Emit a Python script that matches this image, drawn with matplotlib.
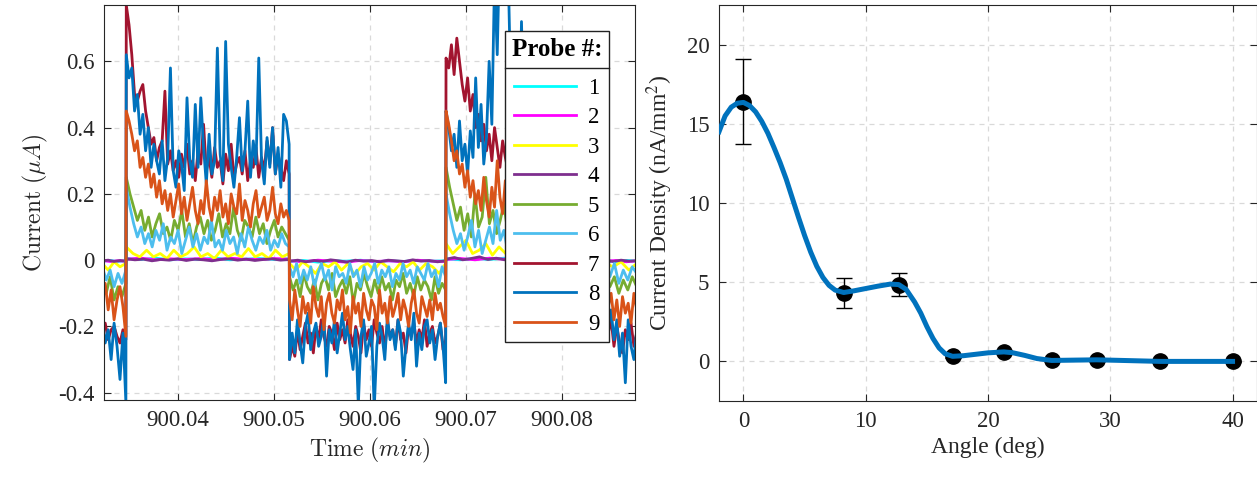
import numpy as np
import matplotlib.pyplot as plt
from matplotlib.lines import Line2D

plt.rcParams['font.family'] = 'Liberation Serif'
plt.rcParams['mathtext.fontset'] = 'stix'
plt.rcParams['axes.unicode_minus'] = False

# -----------------------------------------------------------------
# Left: probe currents, square wave segments (low, high, low, high, low)
# -----------------------------------------------------------------
edges = [900.0321, 900.0346, 900.0516, 900.0679, 900.0845, 900.0878]

probe1 = [
    [-0.003, -0.001, -0.004, -0.002],
    [0.005, 0.002, 0.006, 0.001, 0.004, 0.002, 0.007, 0.001, 0.003, 0.005, 0.002, 0.004],
    [-0.004, -0.001, -0.006, -0.002, -0.003, 0.0, -0.005, -0.002, -0.004, -0.001, -0.003, -0.002],
    [0.004, 0.001, 0.005, 0.002, 0.006, 0.001, 0.003, 0.005, 0.002, 0.004, 0.001, 0.003],
    [-0.002, -0.004, -0.001, -0.003],
]
probe2 = [
    [-0.001, -0.004, -0.002, -0.003],
    [0.003, 0.006, 0.001, 0.004, 0.002, 0.005, 0.001, 0.006, 0.003, 0.002, 0.005, 0.003],
    [-0.002, -0.005, 0.0, -0.003, -0.006, -0.001, -0.004, -0.002, -0.005, 0.0, -0.003, -0.004],
    [0.002, 0.005, 0.001, 0.006, 0.003, 0.004, 0.001, 0.005, 0.002, 0.006, 0.003, 0.002],
    [-0.003, -0.001, -0.005, -0.002],
]
probe3 = [
    [-0.01, -0.03, -0.005, -0.02, -0.01],
    [0.04, 0.02, 0.01, 0.03, 0.01, 0.02, 0.005, 0.03, 0.01, 0.02, 0.04, 0.01, 0.02,
     0.005, 0.03, 0.01, 0.02, 0.01, 0.035, 0.01, 0.02, 0.005, 0.03, 0.01, 0.02],
    [-0.01, -0.03, -0.005, -0.02, -0.04, -0.01, -0.02, -0.005, -0.03, -0.01, -0.045, -0.02, -0.01,
     -0.03, -0.005, -0.02, -0.035, -0.01, -0.02, -0.005, -0.03, -0.01, -0.02, -0.04, -0.01],
    [0.05, 0.02, 0.04, 0.06, 0.02, 0.03, 0.05, 0.015, 0.04, 0.02, 0.06, 0.03, 0.02,
     0.05, 0.03, 0.02, 0.04, 0.015, 0.03, 0.05, 0.02, 0.03, 0.04, 0.02, 0.03],
    [-0.01, -0.02, -0.005, -0.03, -0.01],
]
probe4 = [
    [-0.002, 0.0, -0.004, -0.001, -0.003],
    [0.004, 0.001, 0.003, -0.002, 0.002, 0.0, 0.004, -0.001, 0.003, 0.001,
     -0.002, 0.002, 0.004, 0.0, 0.003, -0.001, 0.002, 0.004, 0.0, 0.002],
    [-0.003, 0.0, -0.005, -0.001, -0.004, 0.001, -0.002, -0.006, 0.0, -0.003,
     -0.001, -0.005, 0.0, -0.002, -0.004, 0.001, -0.003, -0.001, -0.005, -0.002],
    [0.003, 0.008, 0.001, 0.005, 0.010, 0.002, 0.006, 0.001, 0.009, 0.003,
     0.005, 0.0, 0.007, 0.002, 0.004, 0.008, 0.001, 0.005, 0.003, 0.006],
    [-0.001, -0.004, 0.0, -0.003, -0.002],
]
probe5 = [
    [-0.06, -0.10, -0.05, -0.12, -0.08, -0.11, -0.07],
    [0.25, 0.20, 0.16, 0.12, 0.15, 0.09, 0.13, 0.07, 0.11, 0.14, 0.08, 0.10, 0.06, 0.12, 0.09,
     0.15, 0.07, 0.11, 0.05, 0.10, 0.13, 0.08, 0.12, 0.06, 0.09, 0.14, 0.07, 0.11, 0.08, 0.16,
     0.09, 0.06, 0.12, 0.10, 0.07, 0.13, 0.08, 0.11, 0.05, 0.09, 0.12, 0.07, 0.10, 0.08, 0.06],
    [-0.05, -0.09, -0.06, -0.11, -0.04, -0.08, -0.10, -0.06, -0.12, -0.07, -0.05, -0.09, -0.04, -0.11, -0.08,
     -0.06, -0.10, -0.05, -0.13, -0.07, -0.09, -0.04, -0.08, -0.11, -0.06, -0.10, -0.05, -0.09, -0.07, -0.12,
     -0.06, -0.08, -0.04, -0.10, -0.07, -0.11, -0.05, -0.09, -0.06, -0.08, -0.12, -0.05, -0.10, -0.07, -0.09],
    [0.28, 0.22, 0.17, 0.12, 0.16, 0.09, 0.14, 0.07, 0.20, 0.10, 0.13, 0.25, 0.11, 0.15, 0.08,
     0.12, 0.17, 0.09, 0.14, 0.06, 0.11, 0.16, 0.08, 0.13, 0.10, 0.07, 0.12, 0.15, 0.09, 0.11,
     0.06, 0.13, 0.10, 0.08, 0.14, 0.07, 0.11, 0.09, 0.12, 0.06, 0.10, 0.13, 0.08, 0.11, 0.09],
    [-0.04, -0.08, -0.05, -0.10, -0.06, -0.09, -0.05, -0.08],
]
probe6 = [
    [-0.02, -0.06, -0.03, -0.08, -0.04, -0.07, -0.03],
    [0.22, 0.16, 0.11, 0.07, 0.10, 0.05, 0.08, 0.04, 0.09, 0.06, 0.11, 0.03, 0.07, 0.05, 0.09,
     0.02, 0.06, 0.10, 0.04, 0.08, 0.03, 0.07, 0.05, 0.12, 0.04, 0.06, 0.03, 0.09, 0.05, 0.07,
     0.02, 0.08, 0.04, 0.10, 0.06, 0.03, 0.07, 0.05, 0.09, 0.03, 0.06, 0.04, 0.08, 0.05, 0.04],
    [-0.02, -0.05, -0.01, -0.07, -0.03, -0.06, -0.02, -0.08, -0.04, -0.01, -0.06, -0.03, -0.09, -0.02, -0.05,
     -0.04, -0.07, -0.01, -0.05, -0.03, -0.08, -0.02, -0.06, -0.04, -0.01, -0.07, -0.03, -0.05, -0.02, -0.08,
     -0.04, -0.06, -0.01, -0.05, -0.03, -0.07, -0.02, -0.04, -0.06, -0.01, -0.05, -0.03, -0.08, -0.02, -0.05],
    [0.20, 0.14, 0.09, 0.05, 0.08, 0.03, 0.07, 0.12, 0.04, 0.09, 0.02, 0.06, 0.10, 0.05, 0.15,
     0.06, 0.09, 0.03, 0.07, 0.05, 0.11, 0.04, 0.08, 0.03, 0.06, 0.09, 0.04, 0.10, 0.05, 0.07,
     0.03, 0.08, 0.06, 0.04, 0.09, 0.03, 0.07, 0.05, 0.10, 0.04, 0.06, 0.08, 0.03, 0.07, 0.05],
    [-0.02, -0.05, -0.01, -0.07, -0.03, -0.06, -0.02, -0.04],
]
probe7 = [
    [-0.22, -0.19, -0.24, -0.21, -0.20, -0.23, -0.25, -0.21, -0.24],
    [0.77, 0.71, 0.62, 0.50, 0.48, 0.51, 0.53, 0.45, 0.40, 0.35, 0.37, 0.30, 0.34, 0.36, 0.51,
     0.29, 0.33, 0.27, 0.30, 0.25, 0.32, 0.28, 0.35, 0.26, 0.30, 0.24, 0.33, 0.29, 0.41, 0.27,
     0.31, 0.25, 0.34, 0.28, 0.30, 0.23, 0.32, 0.27, 0.35, 0.25, 0.29, 0.31, 0.26, 0.33, 0.24,
     0.30, 0.28, 0.34, 0.25, 0.31, 0.27, 0.36, 0.29, 0.40, 0.26, 0.32, 0.28, 0.24, 0.30, 0.26],
    [-0.30, -0.26, -0.29, -0.21, -0.27, -0.23, -0.19, -0.25, -0.22, -0.28, -0.20, -0.24, -0.18, -0.23, -0.26,
     -0.20, -0.22, -0.27, -0.19, -0.24, -0.21, -0.25, -0.18, -0.22, -0.26, -0.20, -0.23, -0.28, -0.19, -0.24,
     -0.21, -0.26, -0.18, -0.22, -0.25, -0.20, -0.27, -0.19, -0.23, -0.21, -0.26, -0.18, -0.24, -0.22, -0.28,
     -0.20, -0.23, -0.19, -0.25, -0.21, -0.24, -0.18, -0.26, -0.22, -0.20, -0.25, -0.23, -0.19, -0.27, -0.24],
    [0.61, 0.58, 0.65, 0.56, 0.67, 0.60, 0.53, 0.48, 0.55, 0.45, 0.50, 0.40, 0.44, 0.36, 0.41,
     0.33, 0.38, 0.30, 0.40, 0.34, 0.28, 0.36, 0.31, 0.27, 0.35, 0.30, 0.33, 0.26, 0.37, 0.29,
     0.32, 0.25, 0.34, 0.28, 0.31, 0.26, 0.36, 0.29, 0.33, 0.27, 0.30, 0.24, 0.35, 0.28, 0.32,
     0.26, 0.30, 0.33, 0.27, 0.29, 0.25, 0.34, 0.28, 0.31, 0.26, 0.30, 0.27, 0.33, 0.25, 0.29],
    [-0.15, -0.22, -0.18, -0.26, -0.20, -0.25, -0.28, -0.21, -0.24, -0.19, -0.26, -0.22],
]
probe8 = [
    [-0.18, -0.25, -0.21, -0.30, -0.19, -0.26, -0.36, -0.22, -0.43],
    [0.62, 0.55, 0.58, 0.45, 0.50, 0.38, 0.44, 0.33, 0.40, 0.28, 0.35, 0.30, 0.26, 0.36, 0.24,
     0.31, 0.58, 0.27, 0.22, 0.33, 0.29, 0.21, 0.49, 0.30, 0.25, 0.47, 0.28, 0.49, 0.34, 0.23,
     0.38, 0.26, 0.30, 0.64, 0.32, 0.24, 0.66, 0.35, 0.28, 0.22, 0.31, 0.43, 0.27, 0.33, 0.48,
     0.25, 0.36, 0.29, 0.61, 0.30, 0.23, 0.37, 0.28, 0.40, 0.26, 0.34, 0.22, 0.44, 0.42, 0.35],
    [-0.30, -0.22, -0.28, -0.18, -0.25, -0.31, -0.20, -0.16, -0.27, -0.22, -0.19, -0.26, -0.23, -0.17, -0.35,
     -0.21, -0.25, -0.18, -0.28, -0.22, -0.16, -0.24, -0.20, -0.27, -0.33, -0.21, -0.44, -0.23, -0.18, -0.29,
     -0.25, -0.20, -0.45, -0.26, -0.19, -0.23, -0.30, -0.17, -0.24, -0.21, -0.27, -0.18, -0.22, -0.35, -0.26,
     -0.19, -0.24, -0.16, -0.32, -0.22, -0.27, -0.20, -0.18, -0.25, -0.21, -0.30, -0.23, -0.19, -0.26, -0.37],
    [0.45, 0.40, 0.33, 0.38, 0.28, 0.42, 0.30, 0.35, 0.26, 0.39, 0.31, 0.55, 0.34, 0.47, 0.29,
     0.37, 0.60, 0.41, 0.85, 0.62, 0.98, 0.80, 1.10, 0.90, 0.52, 0.38, 0.44, 0.33, 0.72, 0.36,
     0.29, 0.42, 0.31, 0.38, 0.27, 0.45, 0.33, 0.29, 0.40, 0.26, 0.36, 0.31, 0.43, 0.28, 0.34,
     0.25, 0.39, 0.30, 0.35, 0.27, 0.41, 0.32, 0.28, 0.37, 0.24, 0.33, 0.30, 0.38, 0.27, 0.31],
    [-0.12, -0.20, -0.15, -0.24, -0.18, -0.29, -0.22, -0.37, -0.18, -0.26, -0.30, -0.21],
]
probe9 = [
    [-0.10, -0.07, -0.15, -0.09, -0.18, -0.12, -0.08, -0.14, -0.23],
    [0.45, 0.42, 0.38, 0.33, 0.36, 0.28, 0.31, 0.25, 0.29, 0.22, 0.26, 0.19, 0.24, 0.17, 0.21,
     0.15, 0.20, 0.13, 0.18, 0.23, 0.14, 0.19, 0.12, 0.17, 0.22, 0.15, 0.11, 0.18, 0.14, 0.24,
     0.16, 0.12, 0.19, 0.15, 0.21, 0.13, 0.17, 0.11, 0.20, 0.16, 0.14, 0.23, 0.12, 0.18, 0.15,
     0.10, 0.17, 0.21, 0.13, 0.16, 0.19, 0.12, 0.15, 0.22, 0.14, 0.11, 0.17, 0.13, 0.15, 0.12],
    [-0.12, -0.18, -0.09, -0.15, -0.20, -0.11, -0.16, -0.13, -0.19, -0.08, -0.14, -0.17, -0.11, -0.21, -0.13,
     -0.10, -0.16, -0.19, -0.12, -0.15, -0.09, -0.18, -0.14, -0.22, -0.11, -0.16, -0.13, -0.20, -0.10, -0.15,
     -0.18, -0.12, -0.14, -0.21, -0.09, -0.16, -0.13, -0.19, -0.11, -0.17, -0.14, -0.10, -0.18, -0.12, -0.15,
     -0.20, -0.13, -0.09, -0.16, -0.19, -0.11, -0.14, -0.17, -0.12, -0.18, -0.10, -0.15, -0.13, -0.17, -0.20],
    [0.45, 0.41, 0.36, 0.30, 0.33, 0.26, 0.29, 0.22, 0.27, 0.19, 0.24, 0.17, 0.21, 0.15, 0.25,
     0.18, 0.13, 0.22, 0.16, 0.30, 0.19, 0.14, 0.24, 0.17, 0.12, 0.20, 0.16, 0.23, 0.13, 0.18,
     0.15, 0.21, 0.12, 0.19, 0.16, 0.14, 0.22, 0.17, 0.13, 0.20, 0.15, 0.18, 0.12, 0.21, 0.16,
     0.14, 0.19, 0.13, 0.17, 0.22, 0.15, 0.12, 0.18, 0.14, 0.20, 0.16, 0.13, 0.17, 0.15, 0.18],
    [-0.08, -0.14, -0.10, -0.18, -0.12, -0.20, -0.11, -0.16, -0.13, -0.19, -0.10, -0.15],
]

probes = [probe1, probe2, probe3, probe4, probe5, probe6, probe7, probe8, probe9]
probe_labels = ['1', '2', '3', '4', '5', '6', '7', '8', '9']
probe_colors = ['#00FFFF', '#FF00FF', '#FFFF00', '#7E2F8E', '#77AC30',
                '#4DBEEE', '#A2142F', '#0072BD', '#D95319']

# -----------------------------------------------------------------
# Right: current density vs angle
# -----------------------------------------------------------------
angle = [0, 8.2, 12.7, 17.1, 21.3, 25.2, 28.9, 34.1, 40]
density = [16.4, 4.3, 4.85, 0.32, 0.6, 0.06, 0.1, 0.0, 0.0]
density_err = [2.7, 0.95, 0.7, 0.1, 0.12, 0.05, 0.05, 0.02, 0.02]

fit_angle = [-2.0, -1.5, -1.0, -0.5, 0.0, 0.5, 1.0, 1.5, 2.0, 2.5, 3.0, 3.5, 4.0, 4.5,
             5.0, 5.5, 6.0, 6.5, 7.0, 7.5, 8.2, 9.0, 10.0, 11.0, 12.0, 12.7, 13.3,
             14.0, 14.5, 15.0, 15.5, 16.0, 16.5, 17.1, 18.0, 19.0, 20.0, 21.3, 22.0,
             23.0, 24.0, 25.2, 27.0, 28.9, 31.0, 34.1, 37.0, 40.0]
fit_density = [14.5, 15.5, 16.05, 16.3, 16.35, 16.15, 15.75, 15.15, 14.4, 13.5, 12.55, 11.5,
               10.3, 9.1, 7.95, 6.9, 6.0, 5.3, 4.8, 4.5, 4.35, 4.45, 4.6, 4.75, 4.88, 4.85,
               4.55, 3.75, 3.05, 2.2, 1.45, 0.85, 0.48, 0.32, 0.36, 0.45, 0.54, 0.6, 0.55,
               0.38, 0.18, 0.06, 0.08, 0.1, 0.06, 0.0, 0.0, 0.0]

W, H = 1257, 479
fig = plt.figure(figsize=(W / 100, H / 100), dpi=100)
ax1 = fig.add_axes([104 / W, 1 - 400 / H, 531 / W, 395 / H])
ax2 = fig.add_axes([719 / W, 1 - 401 / H, 538 / W, 396 / H])

grey = '#262626'
for ax in (ax1, ax2):
    ax.grid(True, linestyle=(0, (4, 4)), color='#d9d9d9', linewidth=0.9)
    ax.set_axisbelow(True)
    ax.tick_params(direction='in', top=True, right=True, length=5, width=0.8,
                   colors=grey, labelsize=16.5, pad=7)
    for sp in ax.spines.values():
        sp.set_color(grey)
        sp.set_linewidth(0.8)

# left panel
gap = 0.00002
for vals, col, lab in zip(probes, probe_colors, probe_labels):
    t_all, y_all = [], []
    for k, seg in enumerate(vals):
        t_all.append(np.linspace(edges[k] + gap, edges[k + 1] - gap, len(seg)))
        y_all.append(seg)
    ax1.plot(np.concatenate(t_all), np.concatenate(y_all), color=col, lw=2.0, label=lab)

ax1.set_xlim(900.0323, 900.0876)
ax1.set_ylim(-0.422, 0.77)
ax1.set_xticks([900.04, 900.05, 900.06, 900.07, 900.08])
ax1.set_xticklabels(['900.04', '900.05', '900.06', '900.07', '900.08'])
ax1.set_yticks([-0.4, -0.2, 0, 0.2, 0.4, 0.6])
ax1.set_yticklabels(['-0.4', '-0.2', '0', '0.2', '0.4', '0.6'])
ax1.set_xlabel(r'$\mathrm{Time}\ (min)$', fontsize=17, math_fontfamily='cm', color=grey, labelpad=4)
ax1.set_ylabel(r'$\mathrm{Current}\ (\mu A)$', fontsize=17, math_fontfamily='cm', color=grey, labelpad=6)

leg = ax1.legend(loc='upper right', bbox_to_anchor=(0.951, 0.934), borderaxespad=0,
                 title='Probe #:', title_fontproperties={'weight': 'bold', 'size': 18},
                 fontsize=16.5, handlelength=2.7, handletextpad=0.5, labelspacing=0.37,
                 borderpad=0.3, fancybox=False, framealpha=1, edgecolor='#222222')
leg.get_frame().set_linewidth(1.0)
leg._legend_box.sep = 12

# right panel
ax2.errorbar(angle, density, yerr=density_err, fmt='o', color='black', ms=11,
             elinewidth=1.0, capsize=5.5, capthick=1.0, zorder=3)
ax2.plot(fit_angle, fit_density, color='#0072BD', lw=3.6, zorder=4)
ax2.set_xlim(-2, 42)
ax2.set_ylim(-2.5, 22.5)
ax2.set_xticks([0, 10, 20, 30, 40])
ax2.set_yticks([0, 5, 10, 15, 20])
ax2.set_xlabel('Angle (deg)', fontsize=17, color=grey, labelpad=4)
ax2.set_ylabel('Current Density (nA/mm$^2$)', fontsize=17, color=grey, labelpad=8)

# separator line under the legend title
fig.canvas.draw()
fb = leg.get_frame().get_window_extent()
tb = leg.get_title().get_window_extent()
ysep = tb.y0 - 7
fig.add_artist(Line2D([fb.x0, fb.x1], [ysep, ysep], transform=None,
                      color='#222222', lw=1.0, zorder=10))

fig.savefig('out.png', dpi=100)
